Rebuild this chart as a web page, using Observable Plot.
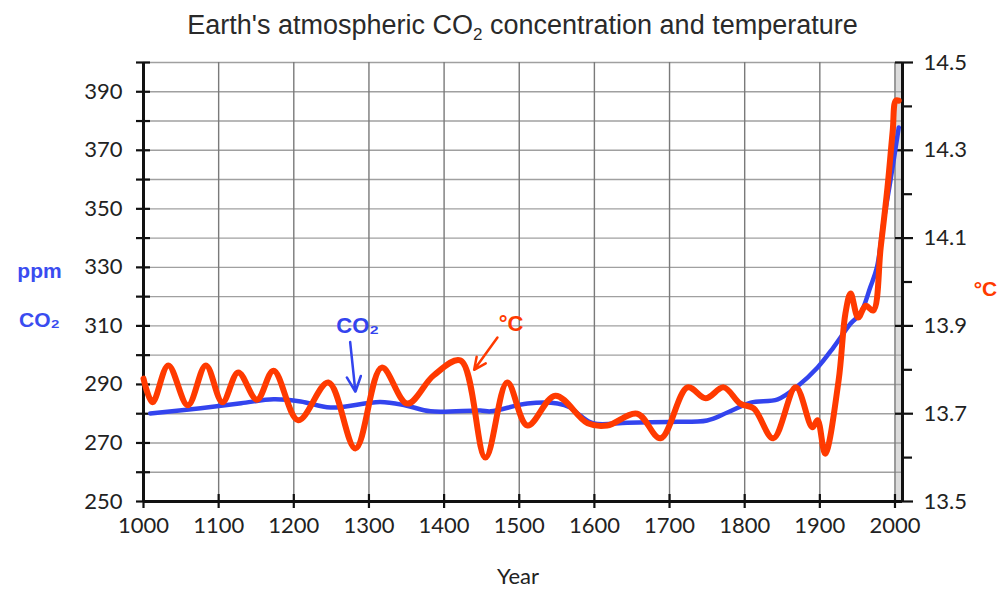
<!DOCTYPE html>
<html><head><meta charset="utf-8">
<script src="https://cdn.jsdelivr.net/npm/d3@7"></script>
<script src="https://cdn.jsdelivr.net/npm/@observablehq/plot@0.6"></script>
<style>
body{margin:0;background:#fff;}
#title{height:50px;width:998px;position:relative;}
#title span{position:absolute;left:143px;width:759px;text-align:center;top:10px;font:27px "Liberation Sans",Arial,sans-serif;color:#2a2a2a;white-space:nowrap;}
#title sub{font-size:17px;}
</style></head><body>
<div id="title"><span>Earth's atmospheric CO<sub>2</sub> concentration and temperature</span></div>
<div id="chart"></div>
<script>
// CO2 concentration (ppm)
const co2Years = [1009,1076,1130,1173,1209,1249,1315,1349,1382,1448,1462,1511,1551,1568,1581,1599,1644,1700,1750,1777,1808,1844,1870,1897,1918,1941,1954,1967,1976,1985,1994,2005];
const co2Ppm   = [280.1,281.9,283.6,284.9,284.2,282.1,284.0,282.8,280.8,281.1,280.8,283.5,283.5,282.1,279.4,276.7,276.9,277.2,277.7,280.4,283.8,284.9,289.3,295.8,302.6,310.8,314.2,323.1,330.0,346.0,359.7,377.8];
// Temperature (°C)
const tempYears = [1000,1012,1033,1059,1083,1105,1126,1151,1173,1206,1246,1282,1317,1351,1386,1422,1455,1484,1511,1548,1591,1617,1657,1688,1724,1748,1772,1794,1812,1838,1868,1890,1897,1907,1925,1934,1941,1951,1961,1971,1981,1990,1997,2001,2005];
const tempC = [13.780,13.726,13.810,13.719,13.810,13.726,13.794,13.732,13.798,13.685,13.771,13.621,13.805,13.723,13.787,13.821,13.600,13.771,13.673,13.741,13.678,13.673,13.700,13.644,13.760,13.735,13.760,13.723,13.712,13.644,13.760,13.669,13.685,13.609,13.776,13.928,13.974,13.919,13.946,13.935,14.079,14.215,14.345,14.413,14.413];

const yearTicks = [1000,1100,1200,1300,1400,1500,1600,1700,1800,1900,2000];
const yearGrid = [1100,1200,1300,1400,1500,1600,1700,1800,1900,2000];
const ppmLabels = [250,270,290,310,330,350,370,390];
const ppmAll = [250,260,270,280,290,300,310,320,330,340,350,360,370,380,390,400];
const tempLabels = [13.5,13.7,13.9,14.1,14.3,14.5];
const tempMinor = [13.6,13.8,14.0,14.2,14.4];
const xDomain = [1000, 2010];
const yDomain = [250, 400];
const shadedSpan = [{x1: 2000, x2: 2010}];

const annotations = [
  {text: "CO₂", year: 1285, ppm: 310, color: "#3344ee"},
  {text: "°C", year: 1489, ppm: 310.5, color: "#ff3a00"}
];
const arrows = [
  {x1: 1275, y1: 304.5, x2: 1282, y2: 287.5, color: "#3344ee"},
  {x1: 1471, y1: 306, x2: 1440, y2: 295, color: "#ff3a00"}
];
const leftLabels = [
  {text: "ppm", ppm: 328.6},
  {text: "CO₂", ppm: 311.8}
];
const rightLabels = [{text: "°C", ppm: 322.5}];

const toPpm = t => 250 + (t - 13.5) * 150;
const toTemp = p => 13.5 + (p - 250) / 150;
const co2 = co2Years.map((y, i) => ({year: y, ppm: co2Ppm[i]}));
const temp = tempYears.map((y, i) => ({year: y, ppm: toPpm(tempC[i])}));

const FONT = "Lato, 'Open Sans', sans-serif";
const BOLD = "'Liberation Sans', Arial, sans-serif";
const chart = Plot.plot({
  width: 998, height: 541,
  marginLeft: 143, marginRight: 96, marginTop: 12, marginBottom: 90,
  x: {domain: xDomain, label: null},
  y: {domain: yDomain, label: null},
  style: {fontFamily: FONT, fontSize: "22px", color: "#222", background: "white", overflow: "visible"},
  marks: [
    Plot.rect(shadedSpan, {x1: "x1", x2: "x2", y1: () => yDomain[0], y2: () => yDomain[1], fill: "#dcdcdc"}),
    Plot.ruleY(ppmAll, {stroke: "#a0a0a0", strokeWidth: 1.4}),
    Plot.ruleX(yearGrid, {stroke: "#7a7a7a", strokeWidth: 1.4}),
    // left axis ticks & labels
    Plot.axisY({ticks: ppmAll, anchor: "left", tickSize: 14, dx: 7, tickFormat: () => "", stroke: "#111", strokeWidth: 2.2}),
    Plot.axisY({ticks: ppmLabels, anchor: "left", tickSize: 0, tickPadding: 21, fill: "#222"}),
    // right axis
    Plot.axisY({ticks: tempLabels.map(toPpm), anchor: "right", tickSize: 18, dx: -8, tickFormat: () => "", stroke: "#111", strokeWidth: 2.2}),
    Plot.axisY({ticks: tempMinor.map(toPpm), anchor: "right", tickSize: 9, tickFormat: () => "", stroke: "#111", strokeWidth: 2.2}),
    Plot.axisY({ticks: tempLabels.map(toPpm), anchor: "right", tickSize: 0, tickPadding: 21, tickFormat: p => toTemp(p).toFixed(1), fill: "#222"}),
    // bottom axis
    Plot.axisX({ticks: yearTicks, anchor: "bottom", tickSize: 14, dy: -7, tickFormat: () => "", stroke: "#111", strokeWidth: 2.2}),
    Plot.axisX({ticks: yearTicks, anchor: "bottom", tickSize: 0, tickPadding: 16, tickFormat: d => String(d), fill: "#222"}),
    Plot.ruleX(xDomain, {stroke: "#111", strokeWidth: 3}),
    Plot.ruleY([yDomain[0]], {stroke: "#111", strokeWidth: 3}),
    // data
    Plot.line(co2, {x: "year", y: "ppm", stroke: "#3344ee", strokeWidth: 4.5, curve: "catmull-rom"}),
    Plot.line(temp, {x: "year", y: "ppm", stroke: "#ff3a00", strokeWidth: 6, curve: "catmull-rom"}),
    // annotations
    Plot.arrow(arrows, {x1: "x1", y1: "y1", x2: "x2", y2: "y2", stroke: "color", strokeWidth: 2.5, headLength: 12, headAngle: 50}),
    Plot.text(annotations, {x: "year", y: "ppm", text: "text", fill: "color", fontSize: 22, fontWeight: "bold", fontFamily: BOLD}),
    Plot.text(leftLabels, {y: "ppm", text: "text", fill: "#3a4cf0", frameAnchor: "left", textAnchor: "middle", dx: -104, fontSize: 21, fontWeight: "bold", fontFamily: BOLD}),
    Plot.text(rightLabels, {y: "ppm", text: "text", fill: "#ff3a00", frameAnchor: "right", textAnchor: "middle", dx: 83, fontSize: 21, fontWeight: "bold", fontFamily: BOLD}),
    Plot.text(["Year"], {frameAnchor: "bottom", dy: 82, dx: -5, text: d => d, fontSize: 22, fill: "#222"})
  ]
});
document.getElementById("chart").appendChild(chart);
</script>
</body></html>
